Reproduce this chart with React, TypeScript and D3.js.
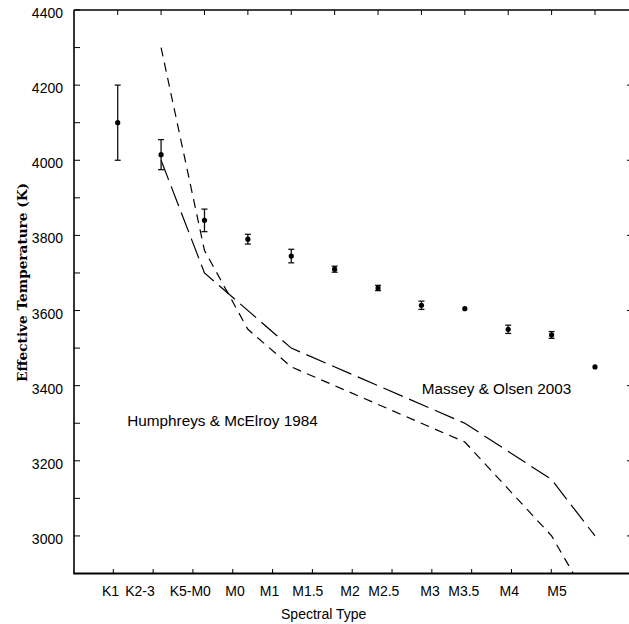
import React from "react";
import * as d3 from "d3";

// ---- data ----
const categories = ["K1", "K2-3", "K5-M0", "M0", "M1", "M1.5", "M2", "M2.5", "M3", "M3.5", "M4", "M5"];
const teff = [4100, 4015, 3840, 3790, 3745, 3710, 3660, 3614, 3605, 3550, 3535, 3450];
const teffErr = [100, 40, 30, 13, 18, 8, 7, 11, 0, 11, 9, 0];

// Humphreys & McElroy 1984 (short dashes)
const hmTypes = ["K2-3", "K5-M0", "M0", "M1", "M3", "M4", "M5"];
const hmTeff = [4300, 3760, 3550, 3450, 3250, 3000, 2800];

// Massey & Olsen 2003 (long dashes)
const moTypes = ["K2-3", "K5-M0", "M1", "M3", "M4", "M5"];
const moTeff = [4000, 3700, 3500, 3300, 3150, 3000];

const yTicks = d3.range(3000, 4401, 100);
const yTickLabels = d3.range(3000, 4401, 200);
const rightTicks = d3.range(3000, 4201, 200);

// ---- layout ----
const W = 629;
const H = 624;
const left = 74;
const right = 633;
const top = 10;
const bottom = 573.5;
// bottom-axis label centres (the original labels are not centred on ticks)
const labelCenters = [110.5, 140, 190.3, 235, 269.5, 307.8, 350, 383.8, 430, 463.8, 509.3, 557];

const y = d3.scaleLinear().domain([2900, 4400]).range([bottom, top]);
const x = d3.scalePoint<string>().domain(categories).range([117.7, 595]);
const xTick = d3.scaleLinear().domain([1, 12]).range([113.3, 551.3]);

const sans = "'Liberation Sans', Arial, Helvetica, sans-serif";

export default function App() {
  const line = d3
    .line<[string, number]>()
    .x((d) => x(d[0]) as number)
    .y((d) => y(d[1]));
  const hmPath = line(hmTypes.map((t, i) => [t, hmTeff[i]] as [string, number])) || "";
  const moPath = line(moTypes.map((t, i) => [t, moTeff[i]] as [string, number])) || "";

  return (
    <svg
      width={W}
      height={H}
      style={{ position: "absolute", left: 0, top: 0, background: "#fff" }}
    >
      <defs>
        <clipPath id="plot">
          <rect x={left} y={top} width={right - left} height={bottom - top} />
        </clipPath>
      </defs>
      <rect x={0} y={0} width={W} height={H} fill="#fff" />

      {/* frame */}
      <line x1={left} y1={top} x2={right} y2={top} stroke="#000" strokeWidth={1.6} />
      <line x1={left} y1={top} x2={left} y2={bottom} stroke="#000" strokeWidth={1.6} />
      <line x1={left - 0.8} y1={bottom} x2={right} y2={bottom} stroke="#000" strokeWidth={1.8} />
      <line x1={right} y1={top} x2={right} y2={bottom} stroke="#000" strokeWidth={1.6} />

      {/* left ticks */}
      {yTicks.map((t) => (
        <line key={"yl" + t} x1={left} x2={left + 6} y1={y(t)} y2={y(t)} stroke="#000" strokeWidth={1} />
      ))}
      {rightTicks.map((t) => (
        <line key={"yr" + t} x1={right - 6} x2={right} y1={y(t)} y2={y(t)} stroke="#000" strokeWidth={1} />
      ))}
      {yTickLabels.map((t) => (
        <text key={"ytl" + t} x={63} y={y(t) + 8} textAnchor="end" fontFamily={sans} fontSize={14} fill="#000">
          {t}
        </text>
      ))}

      {/* top ticks at data positions */}
      {categories.map((c) => (
        <line key={"tt" + c} x1={x(c)} x2={x(c)} y1={top} y2={top + 5} stroke="#000" strokeWidth={1} />
      ))}

      {/* bottom ticks + labels */}
      {categories.map((c, i) => (
        <line key={"bt" + c} x1={xTick(i + 1)} x2={xTick(i + 1)} y1={bottom} y2={bottom - 4.5} stroke="#000" strokeWidth={1} />
      ))}
      {categories.map((c, i) => (
        <text key={"bl" + c} x={labelCenters[i]} y={596} textAnchor="middle" fontFamily={sans} fontSize={14} fill="#000">
          {c}
        </text>
      ))}

      {/* axis titles */}
      <text x={323.7} y={619} textAnchor="middle" fontFamily={sans} fontSize={14} fill="#000">
        Spectral Type
      </text>
      <text
        transform="translate(26.5,282.5) rotate(-90)"
        textAnchor="middle"
        fontFamily="'DejaVu Serif', serif"
        fontWeight="bold"
        fontSize={12}
        textLength={199}
        lengthAdjust="spacingAndGlyphs"
        fill="#000"
      >
        Effective Temperature (K)
      </text>

      {/* model lines */}
      <g clipPath="url(#plot)">
        <path d={hmPath} fill="none" stroke="#000" strokeWidth={1.2} strokeDasharray="9,6.5" />
        <path d={moPath} fill="none" stroke="#000" strokeWidth={1.2} strokeDasharray="21,7" />
      </g>

      {/* data with error bars */}
      {categories.map((c, i) => {
        const cx = x(c) as number;
        const e = teffErr[i];
        return (
          <g key={"pt" + c}>
            {e > 0 && (
              <g stroke="#111" strokeWidth={1.3}>
                <line x1={cx} x2={cx} y1={y(teff[i] + e)} y2={y(teff[i] - e)} />
                <line x1={cx - 3} x2={cx + 3} y1={y(teff[i] + e)} y2={y(teff[i] + e)} />
                <line x1={cx - 3} x2={cx + 3} y1={y(teff[i] - e)} y2={y(teff[i] - e)} />
              </g>
            )}
            <circle cx={cx} cy={y(teff[i])} r={2.6} fill="#000" />
          </g>
        );
      })}

      {/* annotations */}
      <text x={127.3} y={426} fontFamily={sans} fontSize={15.3} fill="#000">
        Humphreys &amp; McElroy 1984
      </text>
      <text x={421.7} y={394} fontFamily={sans} fontSize={15.3} fill="#000">
        Massey &amp; Olsen 2003
      </text>
    </svg>
  );
}
